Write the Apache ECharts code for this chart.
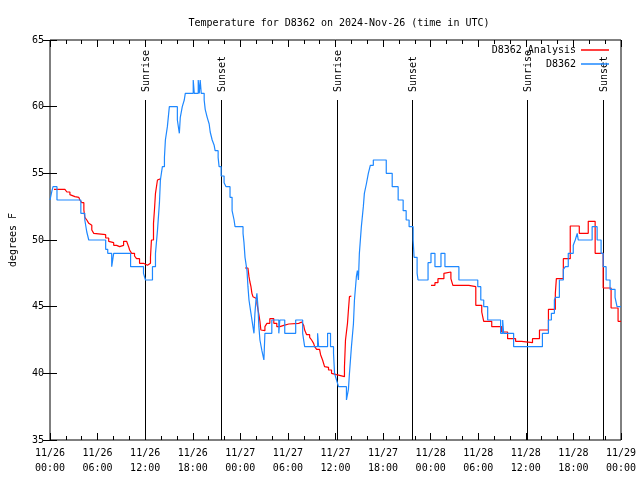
<!DOCTYPE html>
<html>
<head>
<meta charset="utf-8">
<script src="https://cdn.jsdelivr.net/npm/echarts@6/dist/echarts.min.js"></script>
<style>html,body{margin:0;padding:0;background:#fff}#c{width:640px;height:480px}</style>
</head>
<body>
<div id="c"></div>
<script>
// hours since 2024-11-26 00:00 UTC
const obsHours = [0,0.25,0.38,0.88,3.89,4.39,4.64,4.89,7.02,7.28,7.78,8.03,10.16,11.79,12.04,12.92,13.30,13.55,13.80,13.92,14.17,14.43,14.55,14.80,15.05,16.06,16.31,16.43,16.68,16.93,17.06,18.06,18.19,18.69,18.82,18.94,19.07,19.44,19.57,19.82,20.07,20.20,20.45,20.70,20.82,21.20,21.32,21.58,21.95,22.20,22.70,22.96,23.21,23.33,24.34,24.46,24.59,24.84,24.96,25.09,25.34,25.59,25.72,25.84,25.97,26.09,26.22,26.34,26.47,26.72,26.97,27.10,27.97,28.85,28.98,29.60,30.98,31.86,32.11,33.74,33.87,35.00,35.37,35.75,35.88,36.13,36.38,37.38,37.63,37.76,38.01,38.26,38.39,38.64,38.76,38.89,39.01,39.26,39.51,39.64,39.89,40.14,40.39,40.77,42.40,43.15,43.90,44.53,44.91,45.28,45.79,45.91,46.29,46.41,47.67,48.04,48.54,49.30,49.80,51.56,53.94,54.32,54.69,55.19,56.82,57.08,57.20,58.46,62.09,62.85,63.22,63.60,63.72,64.23,64.73,64.98,65.35,65.98,66.23,66.48,66.61,68.36,68.99,69.49,69.75,70.12,70.62,71.25,71.50,72.00];
const obsTemps = [53,53.7,54,53,52,51.5,50.6,50,49.3,49,48,49,48,47.5,47,48,49,50.7,52.8,54.5,55.5,56.2,57.5,58.5,60,59,58,59.2,60,60.5,61,62,61,62,61,62,61,60.5,59.8,59.2,58.7,58.1,57.5,57.1,56.7,56.2,55.5,54.8,54.3,54,53.2,52.2,51.5,51,50.5,49.8,48.7,47.7,46.5,45.5,44.5,43.5,43,44.5,45.5,46,45,43.5,42.5,41.7,41,43,44,43,44,43,44,43,42,43,42,43,42,41.5,40,39.5,39,38,38.8,40,42,43.7,45.5,47.3,47.7,47,49,51,52.5,53.5,54.2,55,55.6,56,55,54,53,52.2,51.5,51,50,48.7,47.5,47,48.3,49,48,49,48,47,46.5,45.5,45,44,43,44,43,42,43,44,44.5,45.5,45.7,47,47.8,48,49,49.6,50,50.5,50,51,50,49,48,47,46.3,45.7,45,45];

const anaHours = [0.50,1.88,2.13,2.51,2.76,3.14,3.64,3.76,4.01,4.27,4.39,4.64,4.89,5.02,5.27,5.52,5.64,7.02,7.40,7.53,8.03,8.40,8.78,9.28,9.66,9.91,10.04,10.29,10.66,10.91,11.29,11.79,12.29,12.67,12.79,13.05,13.17,13.30,13.55,13.80,
  14.0,
  24.59,24.96,25.09,25.21,25.34,25.46,25.59,25.84,26.09,26.34,26.47,26.59,26.84,27.10,27.35,27.72,28.22,28.60,28.98,29.48,30.11,31.36,31.74,31.99,32.11,32.36,32.74,32.99,33.24,33.37,33.62,33.99,34.12,34.37,34.62,34.87,35.12,35.50,35.75,36.13,36.38,37.13,37.26,37.51,37.63,37.76,37.88,
  38.0,
  48.04,48.54,48.92,49.67,49.80,50.55,50.80,52.81,53.69,54.44,54.69,55.70,56.95,57.70,58.71,59.46,60.84,61.72,62.85,63.72,63.85,64.73,65.60,66.74,67.87,68.74,69.75,70.75,71.63,72.00];
const anaTemps = [53.8,53.8,53.6,53.4,53.25,53.2,53.1,53,52.8,52.25,51.7,51.5,51.25,51.1,50.75,50.5,50.4,50.15,49.9,49.8,49.6,49.5,49.6,49.9,49.8,49.5,49.25,49,48.8,48.6,48.25,48.1,48.25,48.7,50,51.25,52.25,53.5,54.5,54.6,
  null,
  47.9,47.8,47.25,46.85,46.5,46,45.75,45.6,45.25,44.4,43.9,43.25,43.2,43.5,43.75,44.1,43.75,43.5,43.6,43.7,43.75,43.85,43.9,43.6,43.25,42.9,42.7,42.5,42.25,42,41.8,41.75,41.4,41,40.5,40.45,40.25,40,39.9,39.8,39.75,40.5,42.5,43.75,44.75,45.75,45.8,
  null,
  46.6,46.8,47.1,47.5,47.6,47.1,46.6,46.5,45.1,44.6,43.9,43.5,43.1,42.6,42.4,42.3,42.6,43.25,44.8,46,47.1,48.6,51.05,50.5,51.4,49,46.4,44.9,43.9,43.9];

const sunHours = [12.04, 21.58, 36.13, 45.66, 60.21, 69.75];
const sunLabels = ['Sunrise', 'Sunset', 'Sunrise', 'Sunset', 'Sunrise', 'Sunset'];
const sunLineTop = 60.5;

const xTickLabels = ['11/26\n00:00','11/26\n06:00','11/26\n12:00','11/26\n18:00','11/27\n00:00','11/27\n06:00','11/27\n12:00','11/27\n18:00','11/28\n00:00','11/28\n06:00','11/28\n12:00','11/28\n18:00','11/29\n00:00'];

const FONT = 'DejaVu Sans Mono';
const obsData = obsHours.map((h, i) => [h, obsTemps[i]]);
const anaData = anaHours.map((h, i) => [h, anaTemps[i] === null ? '-' : anaTemps[i]]);

const chart = echarts.init(document.getElementById('c'), null, {renderer: 'canvas'});
const tickCommon = {inside: true, length: 7, lineStyle: {color: '#000', width: 1}};
const minorCommon = {show: true, splitNumber: 3, length: 4, lineStyle: {color: '#000', width: 1}};
chart.setOption({
  animation: false,
  backgroundColor: '#fff',
  title: {
    text: 'Temperature for D8362 on 2024-Nov-26 (time in UTC)',
    left: 334, top: 13, textAlign: 'center',
    textStyle: {fontFamily: FONT, fontSize: 10, fontWeight: 'normal', color: '#000'}
  },
  legend: {
    orient: 'vertical', right: 31, top: 44, align: 'right', padding: 0,
    icon: 'rect', itemWidth: 28, itemHeight: 1.5, itemGap: 2,
    textStyle: {fontFamily: FONT, fontSize: 10, color: '#000', lineHeight: 12},
    data: ['D8362 Analysis', 'D8362']
  },
  grid: {left: 47, right: 19, top: 40, bottom: 40, show: true, borderColor: '#000', borderWidth: 1, containLabel: false},
  xAxis: [{
    type: 'value', min: 0, max: 72, interval: 6, position: 'bottom',
    axisLine: {show: false}, splitLine: {show: false},
    axisTick: tickCommon, minorTick: minorCommon,
    axisLabel: {margin: 6, fontFamily: FONT, fontSize: 10, color: '#000', lineHeight: 15,
      formatter: v => xTickLabels[Math.round(v / 6)]}
  }, {
    type: 'value', min: 0, max: 72, interval: 6, position: 'top',
    axisLine: {show: false}, splitLine: {show: false},
    axisTick: tickCommon, minorTick: minorCommon, axisLabel: {show: false}
  }],
  yAxis: [{
    type: 'value', min: 35, max: 65, interval: 5, position: 'left',
    name: 'degrees F', nameLocation: 'middle', nameGap: 32, nameRotate: 90,
    nameTextStyle: {fontFamily: FONT, fontSize: 10, color: '#000'},
    axisLine: {show: false}, splitLine: {show: false},
    axisTick: tickCommon,
    axisLabel: {margin: 6, fontFamily: FONT, fontSize: 10, color: '#000'}
  }, {
    type: 'value', min: 35, max: 65, interval: 5, position: 'right',
    axisLine: {show: false}, splitLine: {show: false},
    axisTick: tickCommon, axisLabel: {show: false}
  }],
  series: [{
    name: 'sun', type: 'custom', xAxisIndex: 0, yAxisIndex: 0, clip: false, silent: true,
    data: sunHours.map(h => [h]),
    renderItem: (params, api) => {
      const t = api.value(0);
      const p0 = api.coord([t, 35]);
      const p1 = api.coord([t, sunLineTop]);
      const x = Math.round(p0[0]) + 0.5;
      return {type: 'group', children: [
        {type: 'line', shape: {x1: x, y1: p0[1], x2: x, y2: p1[1]}, style: {stroke: '#000', lineWidth: 1}},
        {type: 'text', x: x + 1, y: p1[1] - 8, rotation: Math.PI / 2,
          style: {text: sunLabels[params.dataIndex], textAlign: 'left', textVerticalAlign: 'middle',
            font: '10px ' + FONT, fill: '#000'}}
      ]};
    }
  }, {
    name: 'D8362 Analysis', type: 'line', step: 'end', symbol: 'none', connectNulls: false,
    data: anaData, color: '#ff0000', lineStyle: {color: '#ff0000', width: 1.2}
  }, {
    name: 'D8362', type: 'line', step: 'end', symbol: 'none',
    data: obsData, color: '#1e88ff', lineStyle: {color: '#1e88ff', width: 1.2}
  }]
});
</script>
</body>
</html>
